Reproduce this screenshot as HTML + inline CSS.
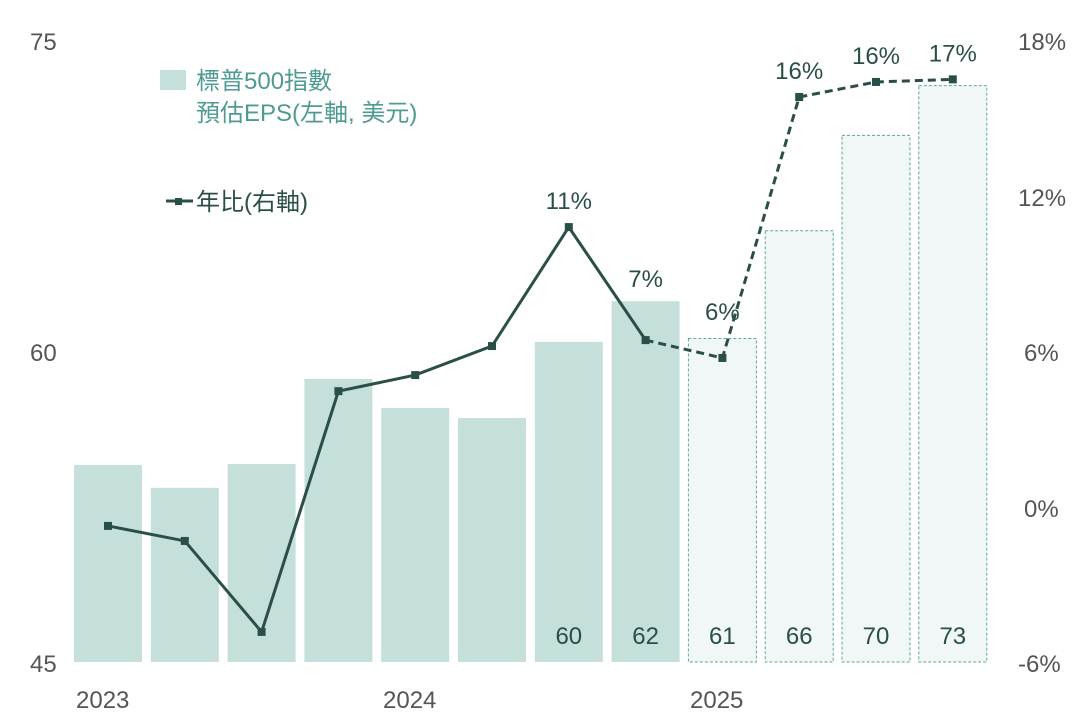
<!DOCTYPE html>
<html><head><meta charset="utf-8"><style>
body{margin:0;background:#fff;}
svg text{font-family:"Liberation Sans","Noto Sans CJK TC",sans-serif;}
</style></head><body>
<svg width="1077" height="718" id="c">
<g id="bars"></g><g id="line"></g><g id="labels"></g>
<g font-size="24" fill="#555">
<text x="30" y="50">75</text>
<text x="30" y="361">60</text>
<text x="30" y="672">45</text>
</g>
<g font-size="24" fill="#555">
<text x="1018" y="50">18%</text>
<text x="1018" y="206">12%</text>
<text x="1024" y="361">6%</text>
<text x="1024" y="517">0%</text>
<text x="1018" y="672">-6%</text>
</g>
<g font-size="24" fill="#555">
<text x="76" y="708">2023</text>
<text x="383" y="708">2024</text>
<text x="690" y="708">2025</text>
</g>
<g>
<rect x="160" y="70" width="26" height="20" fill="#c5dfdb"/>
<text x="196" y="89" font-size="24" fill="#4e9b91">標普500指數</text>
<text x="196" y="121" font-size="24" fill="#4e9b91">預估EPS(左軸, 美元)</text>
<line x1="166" y1="201" x2="193" y2="201" stroke="#2a4f48" stroke-width="3"/>
<rect x="175" y="198" width="7" height="7" fill="#2a4f48"/>
<text x="196" y="210" font-size="24" fill="#2a4f48">年比(右軸)</text>
</g>
</svg>
<script>
const eps=[54.5,53.4,54.55,58.65,57.25,56.77,60.44,62.4,60.6,65.8,70.4,72.8];
const yoy=[-0.73,-1.31,-4.82,4.47,5.09,6.21,10.8,6.44,5.75,15.82,16.4,16.5];
const epsLabels=["","","","","","","60","62","61","66","70","73"];
const yoyLabels=["","","","","","","11%","7%","6%","16%","16%","17%"];
const forecastStart=8, dashedFrom=7;
const NS="http://www.w3.org/2000/svg";
const xC=i=>108+i*76.8;
const yL=v=>662-(v-45)*(622/30);
const yR=v=>507-v*(622/24);
function mk(t,a,p){const e=document.createElementNS(NS,t);for(const k in a)e.setAttribute(k,a[k]);p.appendChild(e);return e;}
const gb=document.getElementById('bars'),gl=document.getElementById('line'),gt=document.getElementById('labels');
eps.forEach((v,i)=>{
 const f=i>=forecastStart;
 const r=mk('rect',{x:xC(i)-34,y:yL(v),width:68,height:662-yL(v),fill:f?'#f0f7f6':'#c5dfdb',stroke:f?'#5aa89e':'none','stroke-width':1,'stroke-dasharray':f?'3,2':''},gb);
 
 
 if(epsLabels[i]){const t=mk('text',{x:xC(i),y:644,'text-anchor':'middle','font-size':24,fill:'#2a4f48'},gt);t.textContent=epsLabels[i];
 
 }
});
const pts=yoy.map((v,i)=>[xC(i),yR(v)]);
const solid=mk('polyline',{points:pts.slice(0,dashedFrom+1).map(p=>p.join(',')).join(' '),fill:'none',stroke:'#2a4f48','stroke-width':3},gl);


const dash=mk('polyline',{points:pts.slice(dashedFrom).map(p=>p.join(',')).join(' '),fill:'none',stroke:'#2a4f48','stroke-width':3,'stroke-dasharray':'8,5'},gl);


pts.forEach((p,i)=>{
 const m=mk('rect',{x:p[0]-4,y:p[1]-4,width:8,height:8,fill:'#2a4f48'},gl);
 
 
 if(yoyLabels[i]){
  let ly=p[1]-18;
  if(i===dashedFrom) ly=Math.min(ly,yL(eps[i])-14);
  if(i===forecastStart) ly=p[1]-38;
  const t=mk('text',{x:p[0],y:ly,'text-anchor':'middle','font-size':24,fill:'#2a4f48'},gt);t.textContent=yoyLabels[i];
  
  
 }
});
</script>
</body></html>
